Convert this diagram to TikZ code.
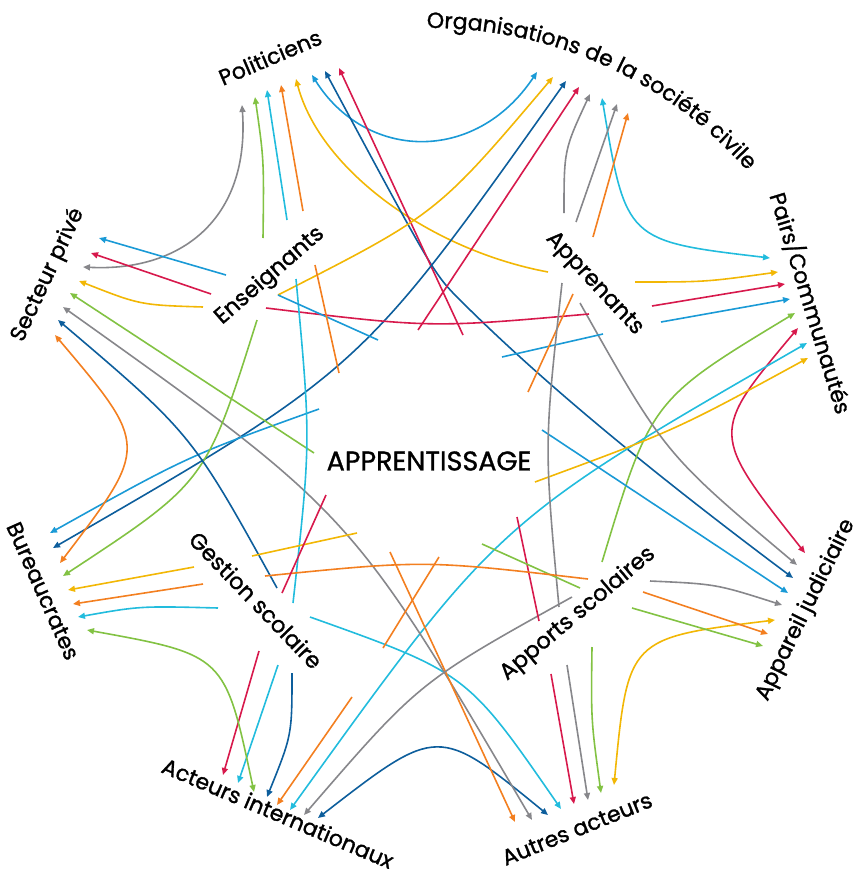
\documentclass[tikz,border=0pt]{standalone}
\usepackage{fontspec}
\setmainfont{Poppins}[FakeBold=1.2]
\usetikzlibrary{arrows.meta,decorations.text}
\definecolor{cblue}{HTML}{1A9AD6}
\definecolor{cnavy}{HTML}{0D5E9C}
\definecolor{ccyan}{HTML}{22BCDD}
\definecolor{cred}{HTML}{D7194C}
\definecolor{corange}{HTML}{F37F20}
\definecolor{cyellow}{HTML}{F2B705}
\definecolor{cgreen}{HTML}{82C243}
\definecolor{cgray}{HTML}{87878B}
\begin{document}
\begin{tikzpicture}[x=1pt,y=-1pt]
        \tikzstyle{ln}=[line width=1.6pt]
        \tikzstyle{arr}=[ln, -{Triangle[length=7pt,width=6pt]}]
        \tikzstyle{darr}=[ln, {Triangle[length=7pt,width=6pt]}-{Triangle[length=7pt,width=6pt]}]
        \tikzstyle{actor}=[inner sep=0pt, font=\fontsize{22}{22}\selectfont]
        \tikzstyle{factor}=[inner sep=0pt, font=\fontsize{22.5}{22}\selectfont]

        \useasboundingbox (0,0) rectangle (855,869);

        \node[factor] (learn) at (429,461) {\fontsize{27}{27}\selectfont APPRENTISSAGE};
        \node[factor, rotate=41]  (ens) at (270,276) {Enseignants};
        \node[factor, rotate=-47] (app) at (594,284) {Apprenants};
        \node[factor, rotate=-46] (ges) at (256,600) {Gestion scolaire};
        \node[factor, rotate=40]  (apo) at (578,614) {Apports scolaires};

        \node[actor, rotate=23]  (pol) at (270,57)  {Politiciens};
        \node[actor, rotate=-73] (pai) at (811,303) {Pairs/Communautés};
        \node[actor, rotate=64]  (jud) at (806,610) {Appareil judiciaire};
        \node[actor, rotate=22]  (aut) at (577,829) {Autres acteurs};
        \node[actor, rotate=-23] (int) at (278,813) {Acteurs internationaux};
        \node[actor, rotate=-66] (bur) at (43,591)  {Bureaucrates};
        \node[actor, rotate=65]  (sec) at (48,275)  {Secteur privé};
        \path[decorate, decoration={text along path, text align=center,
            text={|\fontsize{22}{22}\selectfont|Organisations de la société civile}}]
            (430,452) ++(-96:424) arc[start angle=-96, end angle=-36, radius=424];

        \draw[darr, cgray] (83,267) .. controls (180,272) and (250,220) .. (242,105);
        \draw[arr, cgreen] (263,238) .. controls (264,160) .. (255,97);
        \draw[arr, ccyan] (287,220) -- (267,90);
        \draw[arr, corange] (303,211) -- (281,85);
        \draw[arr, cyellow] (548,272) .. controls (430,250) and (320,170) .. (296,79);
        \draw[darr, cblue] (312,75) .. controls (365,160) and (475,165) .. (537,72);
        \draw[darr, cnavy] (325,71) .. controls (434,274) .. (460,300) .. controls (560,400) and (693,503) .. (793,578);
        \draw[arr, cred] (463,335) -- (339,68);

        \draw[arr, cyellow] (278,295) .. controls (437,214) .. (553,77);
        \draw[darr, cnavy] (566,81) .. controls (361,370) .. (53,548);
        \draw[arr, cred] (418,330) -- (579,87);
        \draw[arr, cgray] (564,213) .. controls (564,150) .. (590,94);
        \draw[darr, ccyan] (602,98) .. controls (626,241) .. (770,258);
        \draw[arr, cgray] (576,222) -- (617,104);
        \draw[arr, corange] (593,237) -- (628,113);

        \draw[arr, cyellow] (635,282) .. controls (706,282) .. (778,272);
        \draw[arr, cred] (652,306) -- (785,284);
        \draw[arr, cblue] (661,322) -- (790,299);
        \draw[arr, cgreen] (602,562) .. controls (651,400) .. (795,313);
        \draw[darr, cred] (798,328) .. controls (710,433) .. (805,553);
        \draw[darr, ccyan] (807,343) .. controls (498,521) .. (290,810);
        \draw[arr, cyellow] (535,482) .. controls (676,430) .. (808,358);

        \draw[arr, cgray] (580,303) .. controls (665,454) .. (797,565);
        \draw[arr, cblue] (542,430) -- (788,593);
        \draw[arr, cgray] (650,581) .. controls (716,584) .. (782,605);
        \draw[darr, cyellow] (775,620) .. controls (628,638) .. (614,785);
        \draw[arr, corange] (643,592) -- (768,634);
        \draw[arr, cgreen] (632,608) -- (763,646);

        \draw[arr, cgreen] (592,647) .. controls (591,720) .. (601,793);
        \draw[arr, cgray] (567,665) -- (588,800);
        \draw[arr, cred] (551,674) -- (574,804);
        \draw[arr, ccyan] (310,617) .. controls (467,673) .. (561,809);
        \draw[darr, cnavy] (318,818) .. controls (438,725) .. (548,815);
        \draw[darr, cgray] (63,307) .. controls (352,513) .. (532,820);
        \draw[arr, corange] (390,552) -- (515,822);

        \draw[arr, cred] (259,651) -- (223,775);
        \draw[arr, ccyan] (278,665) -- (238,783);
        \draw[darr, cgreen] (87,630) .. controls (225,655) .. (254,792);
        \draw[arr, cnavy] (292,673) .. controls (292,735) .. (267,797);
        \draw[arr, corange] (352,697) -- (277,805);
        \draw[arr, cgray] (572,597) .. controls (419,682) .. (304,815);

        \draw[arr, cblue] (319,409) .. controls (188,456) .. (50,533);
        \draw[darr, corange] (60,563) .. controls (149,446) .. (55,335);
        \draw[arr, cgreen] (257,320) .. controls (206,482) .. (63,576);
        \draw[arr, cyellow] (194,567) -- (68,590);
        \draw[arr, corange] (203,584) -- (73,604);
        \draw[arr, ccyan] (218,608) .. controls (140,606) .. (78,617);

        \draw[arr, cblue] (226,275) -- (99,238);
        \draw[arr, cred] (211,294) -- (91,253);
        \draw[arr, cyellow] (203,307) .. controls (140,305) .. (79,281);
        \draw[arr, cgreen] (314,453) -- (70,293);
        \draw[arr, cnavy] (277,588) .. controls (192,434) .. (58,320);

        \draw[ln, cred] (266,308) .. controls (431,328) .. (589,314);
        \draw[ln, ccyan] (296,279) .. controls (311,441) .. (293,603);
        \draw[ln, cblue] (278,295) -- (378,340);
        \draw[ln, corange] (315,265) -- (339,373);
        \draw[ln, cblue] (502,357) -- (603,334);
        \draw[ln, corange] (573,294) -- (528,392);
        \draw[ln, cgray] (562,283) .. controls (544,445) .. (559,607);
        \draw[ln, cred] (517,517) -- (539,621);
        \draw[ln, cgreen] (482,544) -- (580,588);
        \draw[ln, corange] (265,576) .. controls (425,560) .. (588,579);
        \draw[ln, cyellow] (252,556) -- (357,533);
        \draw[ln, cred] (326,495) -- (282,593);
        \draw[ln, corange] (439,557) -- (383,648);
    \end{tikzpicture}
\end{document}
